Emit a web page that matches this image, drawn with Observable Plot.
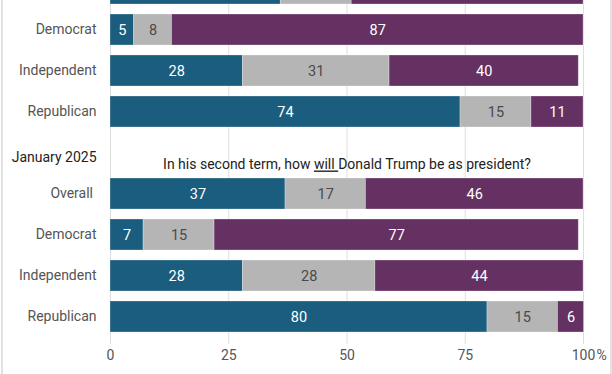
<!DOCTYPE html>
<html>
<head>
<meta charset="utf-8">
<script src="https://cdn.jsdelivr.net/npm/d3@7"></script>
<script src="https://cdn.jsdelivr.net/npm/@observablehq/plot@0.6"></script>
<style>
  html, body { margin: 0; padding: 0; background: #fff; }
  #wrap { position: relative; width: 612px; height: 374px; overflow: hidden; }
  #edge { position: absolute; left: 1px; top: 0; width: 607px; height: 374px;
          border-left: 2px solid #e2e2e2; border-right: 2px solid #e2e2e2; pointer-events: none; }
</style>
</head>
<body>
<div id="wrap"><div id="edge"></div></div>
<script>
// ---- data ----
const groups = ["Overall", "Democrat", "Independent", "Republican"];
const responses = ["good", "unsure", "bad"];
const responseColors = ["#1a5d7e", "#b5b5b5", "#653062"];
// earlier survey (top block, partly cut off)
const prevGood   = [36, 5, 28, 74];
const prevUnsure = [15, 8, 31, 15];
const prevBad    = [49, 87, 40, 11];
// January 2025 block (unrounded estimates; labels are shown rounded)
const janGood   = [37, 7, 28, 79.7];
const janUnsure = [17, 15, 28, 14.9];
const janBad    = [46, 77, 44, 5.5];
const blockLabel = "January 2025";
const question = "In his second term, how will Donald Trump be as president?";
const xTicks = [0, 25, 50, 75, 100];

// ---- build table ----
const rows = [
  ...groups.map(g => "prev|" + g),
  "gap",
  ...groups.map(g => "jan|" + g)
];
const data = [];
function addBlock(prefix, arrs) {
  groups.forEach((g, i) => {
    responses.forEach((r, j) => {
      data.push({row: prefix + "|" + g, resp: r, value: arrs[j][i]});
    });
  });
}
addBlock("prev", [prevGood, prevUnsure, prevBad]);
addBlock("jan", [janGood, janUnsure, janBad]);

const stackOpts = {x: "value", y: "row", z: "resp", order: null};
// the top row sits above the crop's top edge; its texts are not visible
const hiddenRow = "prev|Overall";
const visibleRow = d => d.row !== hiddenRow;
const labelRows = rows.filter(r => r !== "gap" && r !== hiddenRow);

const chart = Plot.plot({
  width: 612,
  height: 374,
  marginLeft: 110,
  marginRight: 29,
  marginTop: 0,
  marginBottom: 30,
  style: {fontFamily: "Roboto", background: "transparent", overflow: "hidden"},
  x: {domain: [0, 100], axis: null, label: null},
  y: {domain: rows, range: [-29.96, 334.3], paddingInner: 0.256, paddingOuter: 0, axis: null, label: null},
  color: {domain: responses, range: responseColors},
  marks: [
    Plot.gridX({ticks: xTicks, stroke: "#dedede", strokeOpacity: 1, strokeWidth: 1}),
    Plot.barX(data, Plot.stackX({...stackOpts, fill: "resp", stroke: "#ffffff", strokeOpacity: 0.35, strokeWidth: 0.8})),
    Plot.text(data, Plot.stackX({...stackOpts, filter: visibleRow, text: d => String(Math.round(d.value)),
      fill: d => d.resp === "unsure" ? "#4a4a4a" : "#ffffff", fontSize: 14.5})),
    Plot.axisY({ticks: labelRows, tickSize: 0, tickPadding: 14, fontSize: 14, color: "#555", label: null,
      tickFormat: d => (d.split("|")[1] === "Overall" ? "Overall\u00a0" : d.split("|")[1])}),
    Plot.axisX({ticks: xTicks, tickSize: 0, tickPadding: 6, fontSize: 14, color: "#555", label: null,
      tickFormat: d => String(d)}),
    Plot.text(["%"], {x: () => 100, frameAnchor: "bottom", lineAnchor: "top", dy: 6, dx: 13, textAnchor: "start",
      fontSize: 14, fill: "#555"}),
    Plot.text([blockLabel], {x: () => 0, y: () => "gap", dx: -14, dy: 5, textAnchor: "end",
      fontSize: 14, fill: "#222"}),
    Plot.text([question], {x: () => 50, y: () => "gap", dy: 12, textAnchor: "middle",
      fontSize: 14, fill: "#222"})
  ]
});

// underline "will" in the question
chart.querySelectorAll("text").forEach(t => {
  if (t.textContent === question) {
    const i = question.indexOf("will ");
    const parts = [question.slice(0, i), "will ", question.slice(i + 5)];
    t.textContent = "";
    parts.forEach((p, k) => {
      const ts = document.createElementNS("http://www.w3.org/2000/svg", "tspan");
      ts.textContent = p;
      if (k === 1) ts.setAttribute("text-decoration", "underline");
      t.appendChild(ts);
    });
  }
});

const wrap = document.getElementById("wrap");
wrap.insertBefore(chart, wrap.firstChild);
</script>
</body>
</html>
